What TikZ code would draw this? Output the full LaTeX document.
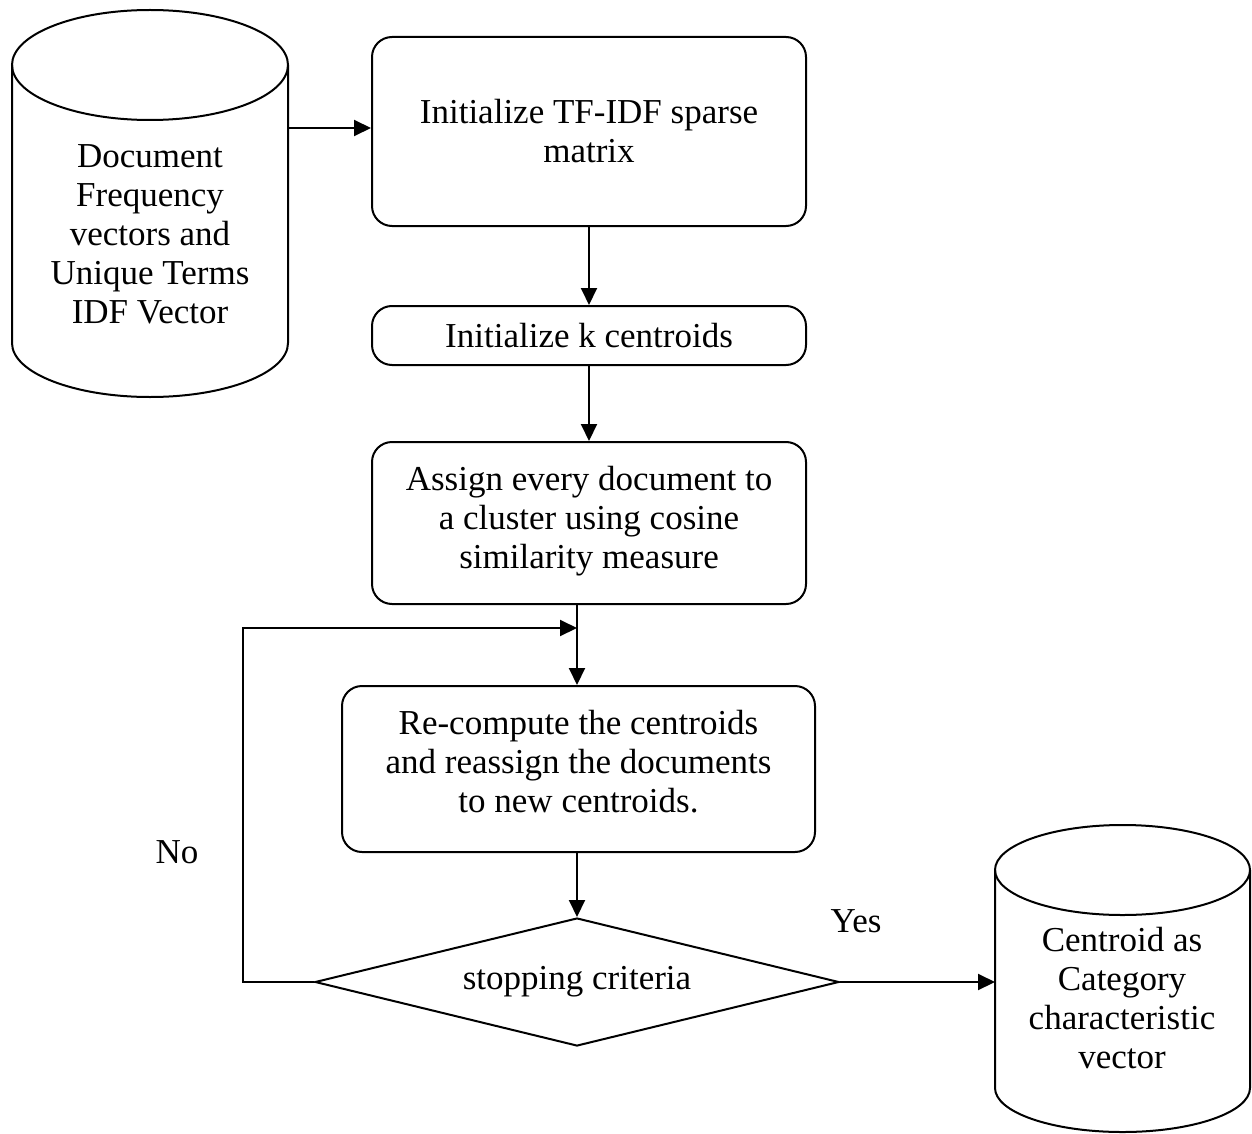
\documentclass[tikz,border=0pt]{standalone}
\usepackage{fontspec}
\setmainfont{Liberation Serif}
\usetikzlibrary{arrows.meta,shapes.geometric}
\tikzset{
  stroke/.style={line width=2pt},
  procbox/.style={stroke, draw, rounded corners=20pt, align=center, inner sep=0pt},
  lbl/.style={align=center, inner sep=0pt},
  arr/.style={stroke, -{Triangle[length=17pt,width=16pt]}},
  decision/.style={stroke, draw, diamond, aspect=4, inner sep=0pt, align=center},
}
\begin{document}
\begin{tikzpicture}[x=1pt, y=-1pt, font=\fontsize{35}{39}\selectfont]
\useasboundingbox (0,0) rectangle (1252,1134);

% input store (cylinder)
\draw[stroke] (12,65) -- (12,343) arc[start angle=180, end angle=0, x radius=138, y radius=54] -- (288,65);
\draw[stroke] (150,65) ellipse[x radius=138, y radius=55];
\node[lbl] (src) at (150,234) {Document\\Frequency\\vectors and\\Unique Terms\\IDF Vector};
\coordinate (srcout) at (288,128);

% output store (cylinder)
\draw[stroke] (995,870) -- (995,1088) arc[start angle=180, end angle=0, x radius=127.5, y radius=44] -- (1250,870);
\draw[stroke] (1122.5,870) ellipse[x radius=127.5, y radius=45];
\node[lbl] (dst) at (1122,998) {Centroid as\\Category\\characteristic\\vector};
\coordinate (dstin) at (995,982);

% process steps
\node[procbox, minimum width=434pt, minimum height=189pt] (b1) at (589,131.5) {Initialize TF-IDF sparse\\matrix};
\node[procbox, minimum width=434pt, minimum height=59pt] (b2) at (589,335.5) {Initialize k centroids};
\node[procbox, minimum width=434pt, minimum height=162pt, text depth=12pt] (b3) at (589,523) {Assign every document to\\a cluster using cosine\\similarity measure};
\node[procbox, minimum width=473pt, minimum height=166pt, text depth=16pt] (b4) at (578.5,769) {Re-compute the centroids\\and reassign the documents\\to new centroids.};
\node[decision, minimum width=524pt, minimum height=128pt] (dec) at (577,982) {stopping criteria};

% loop junction and return path
\coordinate (j) at (577,628);
\coordinate (lp) at (243,628);

\node[lbl] (no) at (177,852) {No};
\node[lbl] (yes) at (856,921) {Yes};

% connectors
\draw[arr] (srcout) -- (srcout -| b1.west);
\draw[arr] (b1.south) -- (b2.north);
\draw[arr] (b2.south) -- (b3.north);
\draw[stroke] (b3.south -| j) -- (j);
\draw[arr] (j) -- (b4.north -| j);
\draw[arr] (b4.south -| dec.north) -- (dec.north);
\draw[arr] (dec.west) -| (lp) -- (j);
\draw[arr] (dec.east) -- (dstin);
\end{tikzpicture}
\end{document}
